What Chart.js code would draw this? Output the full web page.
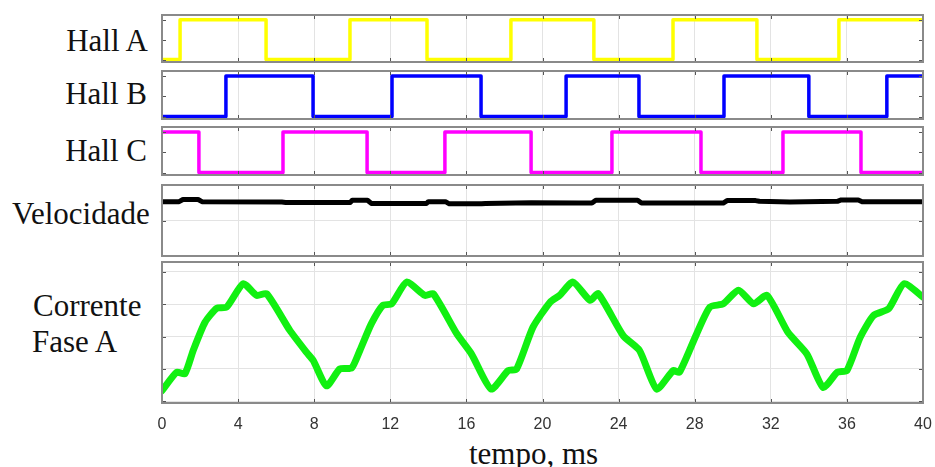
<!DOCTYPE html>
<html>
<head>
<meta charset="utf-8">
<script src="https://cdn.jsdelivr.net/npm/chart.js@4/dist/chart.umd.min.js"></script>
<style>
  html, body { margin: 0; padding: 0; background: #fff; overflow: hidden; }
  #wrap { position: relative; width: 935px; height: 467px; overflow: hidden; background: #fff; }
  canvas { position: absolute; }
  .lab { position: absolute; font-family: "Liberation Serif", "Times New Roman", serif; font-size: 31px; line-height: 31px; color: #111; white-space: nowrap; }
</style>
</head>
<body>
<div id="wrap">
  <div class="lab" style="right:787px; top:25px;">Hall A</div>
  <div class="lab" style="right:788px; top:78px;">Hall B</div>
  <div class="lab" style="right:788px; top:135px;">Hall C</div>
  <div class="lab" style="left:12px; top:198px;">Velocidade</div>
  <div class="lab" style="left:33px; top:290px;">Corrente</div>
  <div class="lab" style="left:32px; top:326px;">Fase A</div>
  <div class="lab" style="left:469px; top:438px;">tempo, ms</div>

  <canvas id="cA" width="765" height="51" style="left:160px; top:13px;"></canvas>
  <canvas id="cB" width="765" height="52" style="left:160px; top:69px;"></canvas>
  <canvas id="cC" width="765" height="52" style="left:160px; top:125px;"></canvas>
  <canvas id="cV" width="765" height="75" style="left:160px; top:183px;"></canvas>
  <canvas id="cI" width="809" height="180" style="left:138px; top:260px;"></canvas>
</div>
<script>
// ---- data ----
const timeMin = 0, timeMax = 40, timeStep = 4;

const hallATimes  = [0, 0.95, 5.47, 9.88, 13.93, 18.34, 22.7, 26.86, 31.27, 35.58, 40];
const hallALevels = [0, 1,    0,    1,    0,     1,     0,    1,     0,     1,     1];

const hallBTimes  = [0, 3.36, 7.94, 12.09, 16.77, 21.24, 25.07, 29.54, 34.0, 38.1, 40];
const hallBLevels = [0, 1,    0,    1,     0,     1,     0,     1,     0,    1,    1];

const hallCTimes  = [0, 1.94, 6.36, 10.78, 14.87, 19.4, 23.65, 28.33, 32.64, 36.74, 40];
const hallCLevels = [1, 0,    1,    0,     1,     0,    1,     0,     1,     0,     0];

const velTimes  = [0, 0.9, 1.1, 1.9, 2.1, 6.3, 6.5, 9.9, 10.0, 10.8, 11.0, 13.9, 14.0, 14.9, 15.1, 16.8, 17.0, 19.4, 21.9, 22.6, 22.8, 25.0, 25.2, 29.5, 29.7, 31.2, 31.4, 33.0, 35.5, 35.7, 36.6, 36.8, 40];
const velValues = [1.53, 1.53, 1.59, 1.59, 1.53, 1.52, 1.51, 1.51, 1.57, 1.57, 1.48, 1.48, 1.53, 1.53, 1.47, 1.47, 1.48, 1.5, 1.49, 1.49, 1.57, 1.57, 1.49, 1.49, 1.56, 1.56, 1.54, 1.52, 1.54, 1.58, 1.58, 1.53, 1.53];

const curTimes  = [0, 0.77, 1.2, 1.64, 2.26, 2.87, 3.4, 4.27, 4.97, 5.5, 6.72, 7.6, 7.95, 8.65, 9.35, 9.97, 10.4, 11.0, 11.6, 12.07, 12.86, 13.82, 14.26, 15.5, 16.27, 17.3, 18.2, 18.64, 19.5, 20.4, 20.9, 21.6, 22.5, 22.93, 24.24, 25.1, 26.0, 26.87, 27.2, 28.1, 28.8, 29.5, 30.3, 31.1, 31.8, 32.9, 33.9, 34.75, 35.5, 36.0, 36.7, 37.4, 38.2, 39.0, 40];
const curValues = [-1.67, -1.1, -1.15, -0.43, 0.44, 0.87, 0.91, 1.63, 1.27, 1.32, 0.19, -0.49, -0.74, -1.52, -1.0, -0.97, -0.43, 0.39, 0.96, 1.01, 1.68, 1.27, 1.32, 0.08, -0.54, -1.62, -1.05, -1.0, 0.29, 1.06, 1.27, 1.68, 1.12, 1.32, 0.03, -0.43, -1.62, -1.05, -1.1, 0.08, 0.91, 1.01, 1.43, 1.01, 1.27, 0.13, -0.54, -1.57, -1.1, -1.05, -0.02, 0.65, 0.86, 1.63, 1.22];

const hallYTicks = [0, 0.5, 1];
const velYTicks  = [0, 1, 2];
const curYTicks  = [-2, -1, 0, 1, 2];

// ---- helpers ----
const pts = (xs, ys) => xs.map((x, i) => ({ x, y: ys[i] }));

const framePlugin = {
  id: 'frame',
  afterDatasetsDraw(chart, args, opts) {
    const { ctx, chartArea: a, scales } = chart;
    ctx.save();
    ctx.strokeStyle = '#555';
    ctx.lineWidth = 1;
    const xs = scales.x;
    xs.ticks.forEach(t => {
      const px = Math.round(xs.getPixelForValue(t.value)) + 0.5;
      ctx.beginPath();
      ctx.moveTo(px, a.top); ctx.lineTo(px, a.top + 4);
      ctx.moveTo(px, a.bottom); ctx.lineTo(px, a.bottom - 4);
      ctx.stroke();
    });
    (opts.yTicks || []).forEach(v => {
      const py = Math.round(scales.y.getPixelForValue(v)) + 0.5;
      ctx.beginPath();
      ctx.moveTo(a.left, py); ctx.lineTo(a.left + 4, py);
      ctx.moveTo(a.right, py); ctx.lineTo(a.right - 4, py);
      ctx.stroke();
    });
    ctx.strokeStyle = '#8a8a8a';
    ctx.lineWidth = 2;
    ctx.strokeRect(a.left, a.top, a.width, a.height);
    ctx.restore();
  }
};

function makeChart(id, data, cfg) {
  const xAxis = {
    type: 'linear', min: timeMin, max: timeMax,
    ticks: cfg.showX ? { stepSize: timeStep, display: true, padding: 12, color: '#333', font: { family: '"Liberation Sans", Arial, sans-serif', size: 16 }, maxRotation: 0 } : { stepSize: timeStep, display: false },
    grid: { color: '#e3e3e3', lineWidth: 1, drawTicks: false },
    border: { display: false },
    afterFit: s => { s.height = cfg.xHeight || 0; }
  };
  const yAxis = {
    type: 'linear', min: cfg.yMin, max: cfg.yMax,
    ticks: { display: false, stepSize: cfg.yStep, includeBounds: false },
    grid: { display: cfg.yGrid, color: '#e3e3e3', lineWidth: 1, drawTicks: false },
    border: { display: false },
    afterFit: s => { s.width = 0; }
  };
  return new Chart(document.getElementById(id), {
    type: 'line',
    data: { datasets: [{
      data,
      borderColor: cfg.color,
      borderWidth: cfg.width,
      pointRadius: 0,
      stepped: cfg.stepped || false,
      tension: cfg.tension || 0,
      fill: false,
      borderJoinStyle: 'round',
      borderCapStyle: 'round'
    }]},
    options: {
      responsive: false,
      animation: false,
      devicePixelRatio: 1,
      layout: { padding: cfg.padding || 2 },
      plugins: { legend: { display: false }, tooltip: { enabled: false }, frame: { yTicks: cfg.yTicks } },
      scales: { x: xAxis, y: yAxis }
    },
    plugins: [framePlugin]
  });
}

makeChart('cA', pts(hallATimes, hallALevels), { color: '#ffff00', width: 3.5, stepped: true, yMin: -0.06, yMax: 1.12, yStep: 0.5, yGrid: false, yTicks: hallYTicks });
makeChart('cB', pts(hallBTimes, hallBLevels), { color: '#0000ff', width: 3.5, stepped: true, yMin: -0.06, yMax: 1.12, yStep: 0.5, yGrid: false, yTicks: hallYTicks });
makeChart('cC', pts(hallCTimes, hallCLevels), { color: '#ff00ff', width: 3.5, stepped: true, yMin: -0.06, yMax: 1.12, yStep: 0.5, yGrid: false, yTicks: hallYTicks });
makeChart('cV', pts(velTimes, velValues), { color: '#000000', width: 5, yMin: 0, yMax: 2, yStep: 1, yGrid: true, yTicks: velYTicks });
makeChart('cI', pts(curTimes, curValues), { color: '#11f011', width: 7, tension: 0.2, yMin: -2.05, yMax: 2.3, yStep: 1, yGrid: true, yTicks: curYTicks,
  showX: true, xHeight: 37, padding: { left: 24, right: 24, top: 2, bottom: 0 } });
</script>
</body>
</html>
